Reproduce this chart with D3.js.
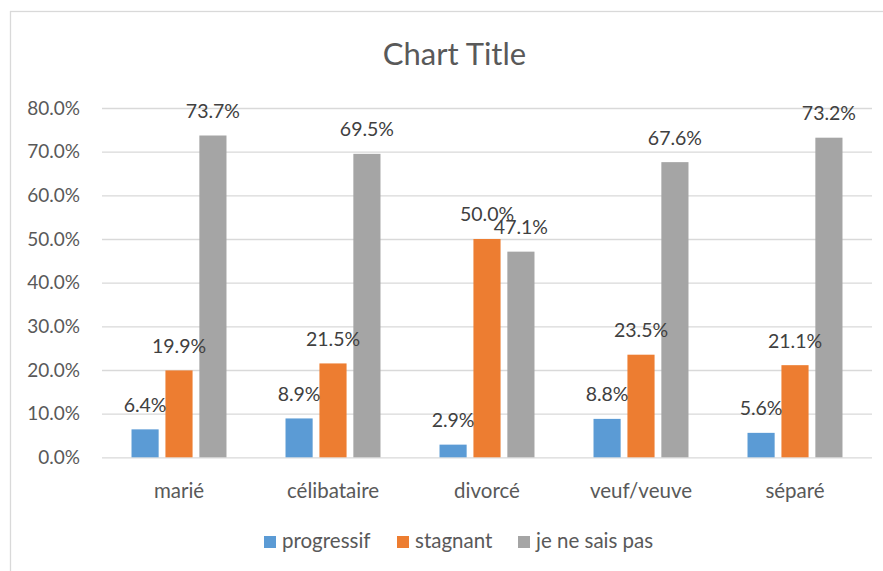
<!DOCTYPE html>
<html>
<head>
<meta charset="utf-8">
<script src="https://cdn.jsdelivr.net/npm/d3@7"></script>
<style>
  html, body { margin: 0; padding: 0; background: #fff; }
  svg { display: block; font-family: Lato, "Open Sans", sans-serif; }
</style>
</head>
<body>
<svg id="chart" width="883" height="571"></svg>
<script>
// Marital status categories
const categories = ["marié", "célibataire", "divorcé", "veuf/veuve", "séparé"];
// Series names and their values (percent)
const seriesNames = ["progressif", "stagnant", "je ne sais pas"];
const progressif = [6.4, 8.9, 2.9, 8.8, 5.6];
const stagnant = [19.9, 21.5, 50.0, 23.5, 21.1];
const neSaisPas = [73.7, 69.5, 47.1, 67.6, 73.2];
const seriesValues = [progressif, stagnant, neSaisPas];
const seriesColors = ["#5B9BD5", "#ED7D31", "#A5A5A5"];
const yTicks = [0, 10, 20, 30, 40, 50, 60, 70, 80];
const chartTitle = "Chart Title";

const svg = d3.select("#chart");
const textColor = "#595959";
const plot = { left: 102, right: 872, top: 108, bottom: 457.3 };

// Chart area outline
svg.append("rect")
  .attr("x", 10.5).attr("y", 11.5)
  .attr("width", 889).attr("height", 580)
  .attr("fill", "#fff").attr("stroke", "#D9D9D9").attr("stroke-width", 1.3);

const y = d3.scaleLinear().domain([0, 80]).range([plot.bottom, plot.top]);
const x0 = d3.scaleBand().domain(categories).range([plot.left, plot.right]).padding(0);
const x1 = d3.scaleBand().domain(seriesNames).range([0, x0.bandwidth()])
  .paddingInner(0.2).paddingOuter(0.87);

// Horizontal gridlines with percentage labels
const yAxis = d3.axisLeft(y).tickValues(yTicks)
  .tickSize(-(plot.right - plot.left)).tickPadding(22)
  .tickFormat(d => d.toFixed(1) + "%");
const gy = svg.append("g").attr("transform", `translate(${plot.left},0)`).call(yAxis);
gy.select(".domain").remove();
gy.selectAll(".tick line").attr("stroke", "#D9D9D9").attr("stroke-width", 1.3);
gy.selectAll(".tick text").attr("fill", textColor).attr("font-size", 19)
  .attr("font-family", "Lato, sans-serif");

// Category labels along the bottom
const xAxis = d3.axisBottom(x0).tickSize(0).tickPadding(26);
const gx = svg.append("g").attr("transform", `translate(0,${plot.bottom})`).call(xAxis);
gx.select(".domain").remove();
gx.selectAll(".tick text").attr("fill", textColor).attr("font-size", 20.5)
  .attr("font-family", "Lato, sans-serif");

// Bars grouped by category
const rows = categories.map((c, i) => ({
  cat: c,
  vals: seriesNames.map((s, j) => ({ s, v: seriesValues[j][i], color: seriesColors[j] }))
}));
const groups = svg.append("g").selectAll("g").data(rows).join("g")
  .attr("transform", d => `translate(${x0(d.cat)},0)`);
groups.selectAll("rect").data(d => d.vals).join("rect")
  .attr("x", d => x1(d.s))
  .attr("y", d => y(d.v))
  .attr("width", x1.bandwidth())
  .attr("height", d => y(0) - y(d.v))
  .attr("fill", d => d.color);

// Value labels above each bar
groups.selectAll("text").data(d => d.vals).join("text")
  .attr("x", d => x1(d.s) + x1.bandwidth() / 2)
  .attr("y", d => y(d.v) - 17.5)
  .attr("text-anchor", "middle")
  .attr("fill", "#404040")
  .attr("font-size", 19.5)
  .text(d => d.v.toFixed(1) + "%");

// Title
svg.append("text")
  .attr("x", 454.5).attr("y", 65)
  .attr("text-anchor", "middle")
  .attr("fill", textColor)
  .attr("font-size", 31)
  .text(chartTitle);

// Legend
const legendX = [264, 397, 518];
const legend = svg.append("g").selectAll("g").data(seriesNames).join("g")
  .attr("transform", (d, i) => `translate(${legendX[i]},536)`);
legend.append("rect").attr("width", 12).attr("height", 12)
  .attr("fill", (d, i) => seriesColors[i]);
legend.append("text").attr("x", 18).attr("y", 11.5)
  .attr("fill", textColor).attr("font-size", 20.5)
  .text(d => d);
</script>
</body>
</html>
